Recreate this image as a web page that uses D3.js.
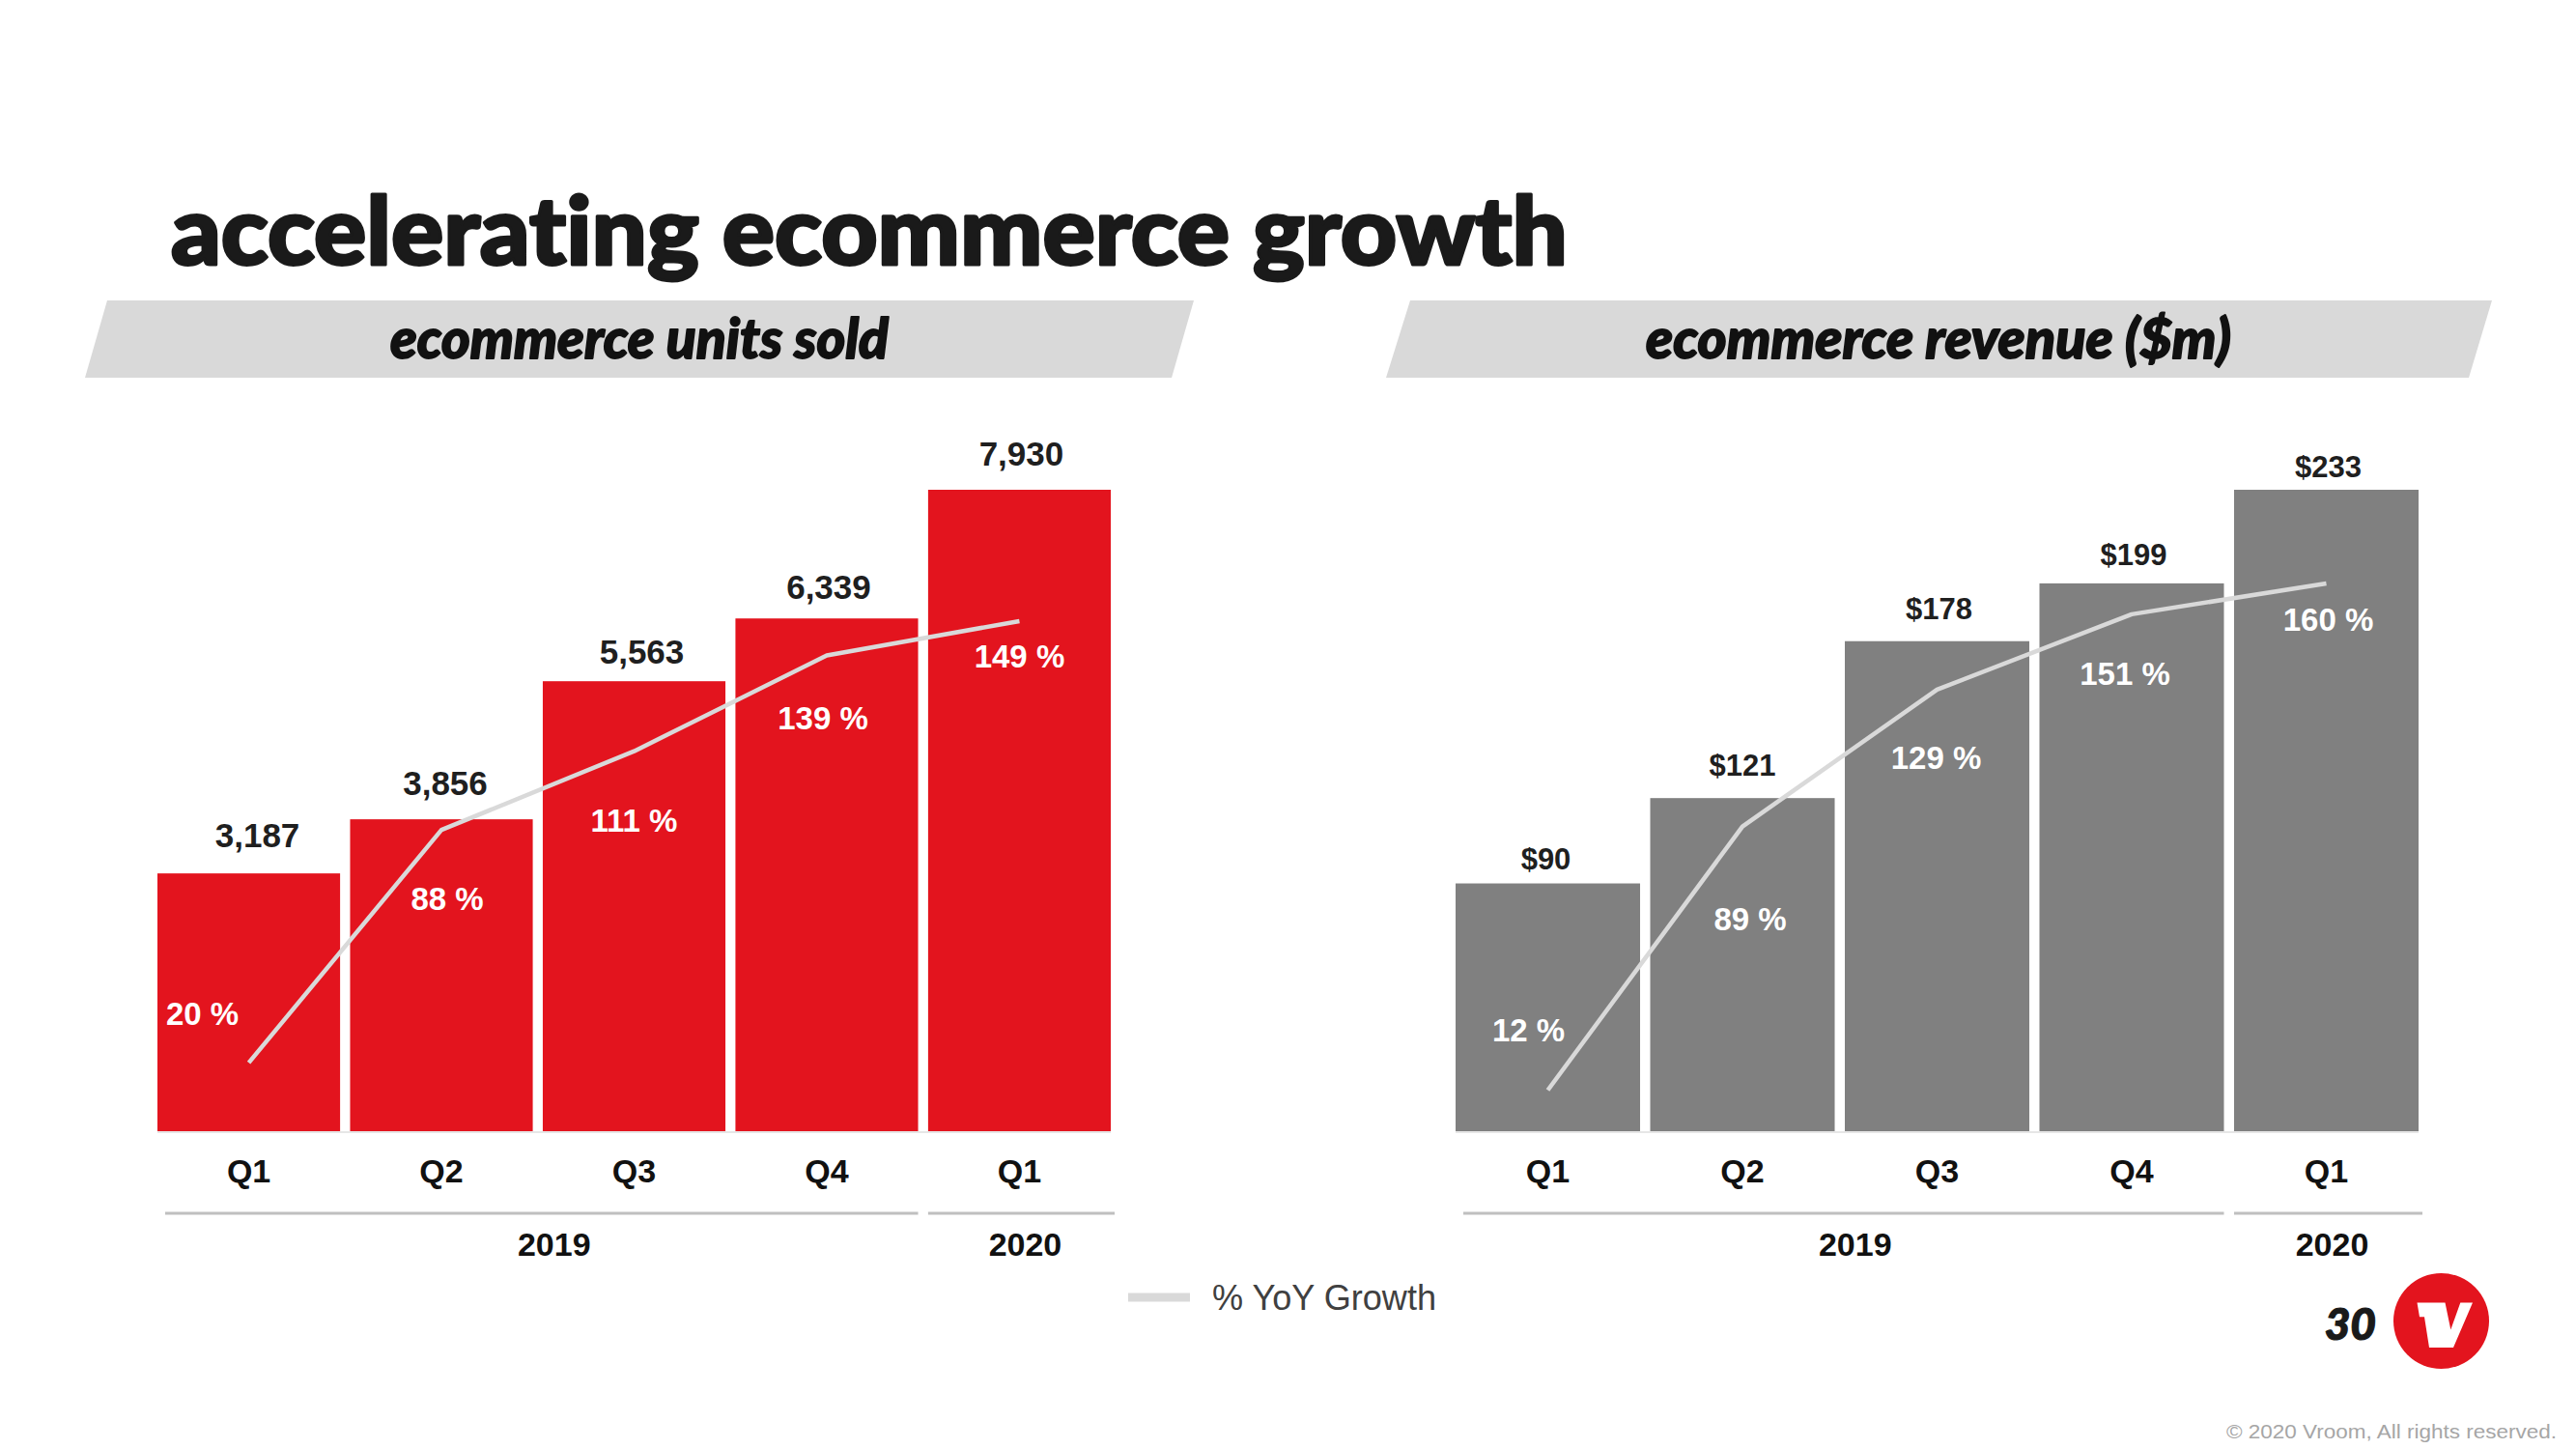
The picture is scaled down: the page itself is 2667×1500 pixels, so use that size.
<!DOCTYPE html>
<html>
<head>
<meta charset="utf-8">
<script src="https://cdn.jsdelivr.net/npm/d3@7"></script>
<style>
  html, body { margin: 0; padding: 0; background: #ffffff; }
  svg { display: block; }
  text { font-variant-ligatures: none; font-feature-settings: "liga" 0, "clig" 0; }
</style>
</head>
<body>
<svg id="chart" width="2667" height="1500"></svg>
<script>
// ---------------- DATA ----------------
const categories = ["Q1", "Q2", "Q3", "Q4", "Q1"];
const yearLabels = ["2019", "2020"];
const yearFirstIndex = [0, 4];
const yearLastIndex = [3, 4];

const unitsSold = [3187, 3856, 5563, 6339, 7930];
const unitsGrowth = [20, 88, 111, 139, 149];

const revenue = [90, 121, 178, 199, 233];
const revenueGrowth = [12, 89, 129, 151, 160];

const titleText = "accelerating ecommerce growth";
const leftPanelTitle = "ecommerce units sold";
const rightPanelTitle = "ecommerce revenue ($m)";
const legendLabel = "% YoY Growth";
const pageNumber = "30";
const copyrightText = "\u00A9 2020 Vroom, All rights reserved.";

// ---------------- LAYOUT ----------------
const W = 2667, H = 1500;
const baseY = 1171;
const topY = 507;
const labelFont = "'Liberation Sans', Arial, sans-serif";
const headFont = "Lato, 'Open Sans', sans-serif";
const lineColor = "#d9d9d9";

const svg = d3.select("#chart");
svg.append("rect").attr("width", W).attr("height", H).attr("fill", "#ffffff");

// Title
svg.append("text")
  .attr("x", 177).attr("y", 274)
  .attr("textLength", 1446).attr("lengthAdjust", "spacingAndGlyphs")
  .attr("font-family", headFont).attr("font-weight", 900)
  .attr("font-size", 98).attr("fill", "#1a1a1a")
  .attr("stroke", "#1a1a1a").attr("stroke-width", 3).attr("stroke-linejoin", "round")
  .text(titleText);

// Growth scale shared by both panels
const yGrowth = d3.scaleLinear().domain([0, 160]).range([baseY, 604]);

function drawPanel(cfg) {
  const x = d3.scaleBand().domain(d3.range(categories.length))
    .range(cfg.xRange).paddingInner(0.052).paddingOuter(0);
  const y = d3.scaleLinear().domain([0, d3.max(cfg.values)]).range([baseY, topY]);
  const g = svg.append("g");

  // banner
  const b = cfg.banner;
  g.append("polygon")
    .attr("points", [[b[0], 311], [b[1], 311], [b[2], 391], [b[3], 391]].map(p => p.join(",")).join(" "))
    .attr("fill", "#d9d9d9");
  g.append("text")
    .attr("x", cfg.bannerTextX).attr("y", 371)
    .attr("textLength", cfg.bannerTextLen).attr("lengthAdjust", "spacingAndGlyphs")
    .attr("font-family", headFont).attr("font-weight", 900).attr("font-style", "italic")
    .attr("font-size", 58).attr("fill", "#111111")
    .attr("stroke", "#111111").attr("stroke-width", 1.8).attr("stroke-linejoin", "round")
    .text(cfg.title);

  // bars
  g.selectAll("rect.bar").data(cfg.values).join("rect")
    .attr("class", "bar")
    .attr("x", (d, i) => x(i)).attr("width", x.bandwidth())
    .attr("y", d => y(d)).attr("height", d => baseY - y(d))
    .attr("fill", cfg.color);

  // baseline
  g.append("line")
    .attr("x1", cfg.xRange[0]).attr("x2", cfg.xRange[1])
    .attr("y1", baseY + 1).attr("y2", baseY + 1)
    .attr("stroke", "#e6e6e6").attr("stroke-width", 2);

  // value labels
  g.selectAll("text.val").data(cfg.values).join("text")
    .attr("class", "val")
    .attr("x", (d, i) => x(i) + x.bandwidth() / 2 + cfg.valDx[i])
    .attr("y", (d, i) => y(d) - cfg.valGap[i])
    .attr("text-anchor", "middle")
    .attr("font-family", labelFont).attr("font-weight", 700)
    .attr("font-size", cfg.valueSize).attr("fill", "#1f1f1f")
    .text(cfg.fmt);

  // growth line
  const line = d3.line()
    .x((d, i) => x(i) + x.bandwidth() / 2)
    .y(d => yGrowth(d));
  g.append("path").datum(cfg.growth)
    .attr("d", line).attr("fill", "none")
    .attr("stroke", lineColor).attr("stroke-width", 4.5)
    .attr("stroke-linejoin", "round");

  // growth labels
  g.selectAll("text.pct").data(cfg.growth).join("text")
    .attr("class", "pct")
    .attr("x", (d, i) => x(i) + x.bandwidth() / 2 + cfg.pctDx[i])
    .attr("y", (d, i) => yGrowth(d) + cfg.pctDy[i] + 12)
    .attr("text-anchor", "middle")
    .attr("font-family", labelFont).attr("font-weight", 700)
    .attr("font-size", 33).attr("fill", "#ffffff")
    .text(d => d + " %");

  // category axis (text only)
  const axis = d3.axisBottom(x).tickSize(0).tickPadding(0)
    .tickFormat(i => categories[i]);
  const ax = g.append("g").attr("transform", `translate(0, 1224)`).call(axis);
  ax.select(".domain").remove();
  ax.selectAll("text")
    .attr("dy", 0)
    .attr("font-family", labelFont).attr("font-weight", 700)
    .attr("font-size", 34).attr("fill", "#111111");

  // year groups
  yearLabels.forEach((yl, k) => {
    const x0 = x(yearFirstIndex[k]) + (k === 0 ? 8 : 0);
    const x1 = x(yearLastIndex[k]) + x.bandwidth() + (k === 0 ? 0 : 4);
    g.append("line")
      .attr("x1", x0).attr("x2", x1).attr("y1", 1256).attr("y2", 1256)
      .attr("stroke", "#bfbfbf").attr("stroke-width", 3);
    g.append("text")
      .attr("x", (x0 + x1) / 2 + cfg.yearDx[k]).attr("y", 1300)
      .attr("text-anchor", "middle")
      .attr("font-family", labelFont).attr("font-weight", 700)
      .attr("font-size", 34).attr("fill", "#111111")
      .text(yl);
  });
}

drawPanel({
  xRange: [163, 1150],
  values: unitsSold,
  growth: unitsGrowth,
  color: "#e3141e",
  banner: [111, 1236, 1213, 88],
  bannerTextX: 404, bannerTextLen: 516,
  title: leftPanelTitle,
  valueSize: 35,
  valGap: [27, 25, 18, 20, 25],
  valDx: [9, 4, 8, 2, 2],
  yearDx: [13, 4],
  fmt: d3.format(","),
  pctDx: [-48, 6, 0, -4, 0],
  pctDy: [-51, 71, 71, 65, 36]
});

drawPanel({
  xRange: [1507, 2504],
  values: revenue,
  growth: revenueGrowth,
  color: "#808080",
  banner: [1460, 2580, 2556, 1435],
  bannerTextX: 1704, bannerTextLen: 606,
  title: rightPanelTitle,
  valueSize: 31,
  valGap: [15, 23, 23, 19, 13],
  valDx: [-2, 0, 2, 2, 2],
  yearDx: [12, 4],
  fmt: d => "$" + d,
  pctDx: [-20, 8, -1, -7, 2],
  pctDy: [-62, 95, 70, 61, 37]
});

// Legend
svg.append("line")
  .attr("x1", 1168).attr("x2", 1232).attr("y1", 1343).attr("y2", 1343)
  .attr("stroke", lineColor).attr("stroke-width", 9);
svg.append("text")
  .attr("x", 1255).attr("y", 1356)
  .attr("textLength", 232).attr("lengthAdjust", "spacingAndGlyphs")
  .attr("font-family", labelFont).attr("font-size", 37).attr("fill", "#404040")
  .text(legendLabel);

// Page number
svg.append("text")
  .attr("x", 2460).attr("y", 1387).attr("text-anchor", "end")
  .attr("font-family", headFont).attr("font-weight", 900).attr("font-style", "italic")
  .attr("font-size", 46).attr("fill", "#1a1a1a")
  .attr("stroke", "#1a1a1a").attr("stroke-width", 1.2)
  .text(pageNumber);

// Logo
const lg = svg.append("g").attr("transform", "translate(2527.5,1367.5)");
lg.append("circle").attr("r", 49.5).attr("fill", "#e3141e");
lg.append("polygon")
  .attr("points", [[-25, -19], [4, -19], [9.8, 9], [19.8, -19], [32.5, -19], [12.5, 27.5], [-12.5, 27.5], [-17.5, -4.2], [-22.5, -4.2]].map(p => p.join(",")).join(" "))
  .attr("fill", "#ffffff");

// Copyright
svg.append("text")
  .attr("x", 2305).attr("y", 1489)
  .attr("textLength", 342).attr("lengthAdjust", "spacingAndGlyphs")
  .attr("font-family", labelFont).attr("font-size", 20).attr("fill", "#a6a6a6")
  .text(copyrightText);
</script>
</body>
</html>
